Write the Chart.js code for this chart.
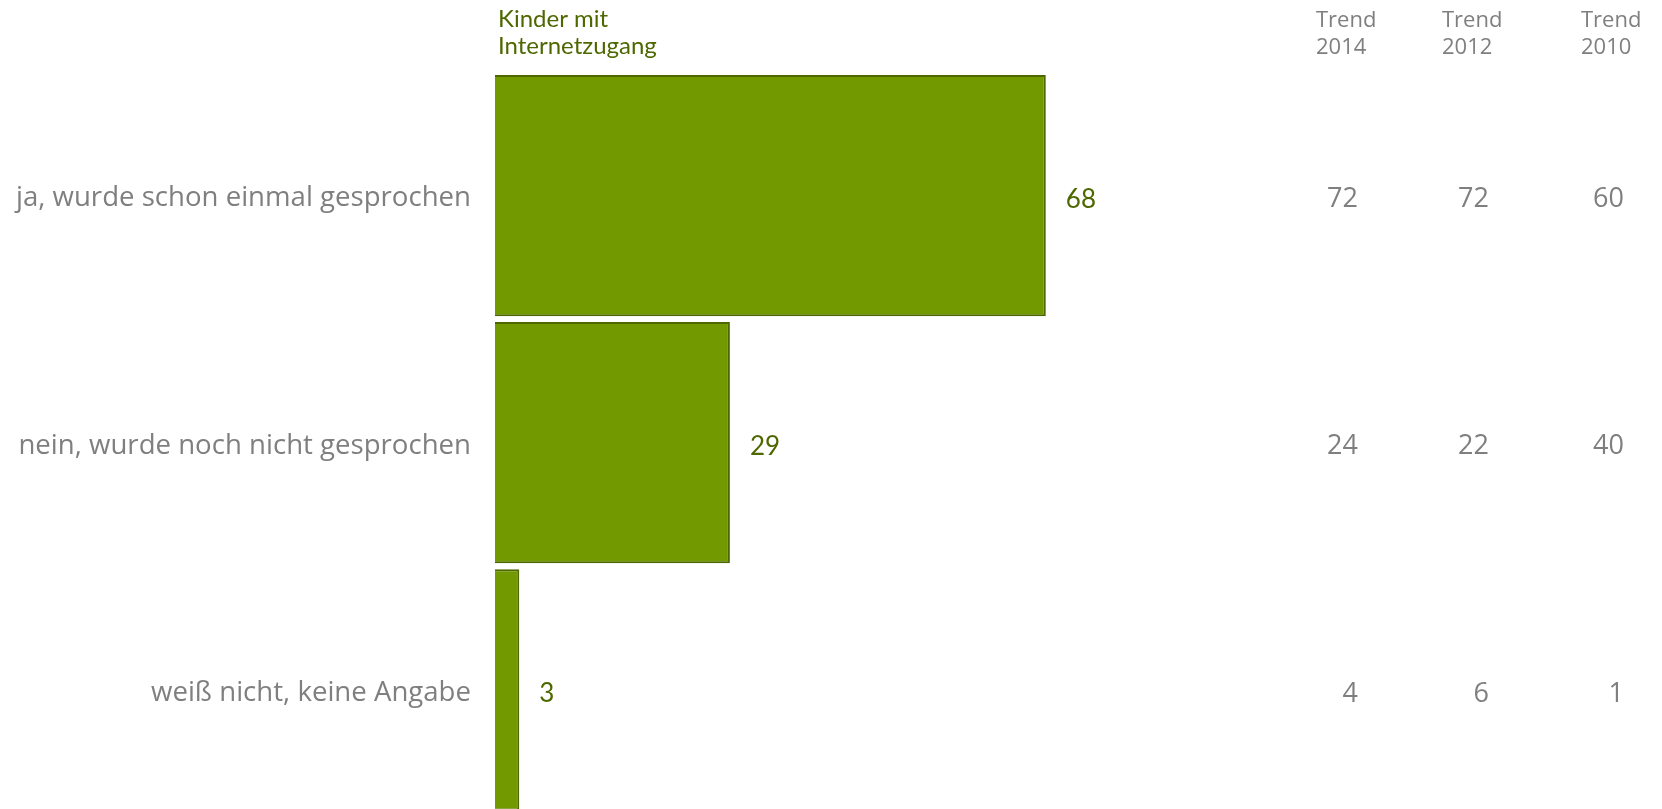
<!DOCTYPE html>
<html>
<head>
<meta charset="utf-8">
<script src="https://cdn.jsdelivr.net/npm/chart.js@4"></script>
<style>
  html, body { margin: 0; padding: 0; background: #fff; overflow: hidden; }
  canvas { display: block; }
</style>
</head>
<body>
<canvas id="chart" width="1662" height="854"></canvas>
<script>
// data
const categories = ['ja, wurde schon einmal gesprochen', 'nein, wurde noch nicht gesprochen', 'weiß nicht, keine Angabe'];
const kinderValues = [68, 29, 3];
const trend2014 = [72, 24, 4];
const trend2012 = [72, 22, 6];
const trend2010 = [60, 40, 1];
const seriesHeader = ['Kinder mit', 'Internetzugang'];
const trendHeaders = [['Trend', '2014'], ['Trend', '2012'], ['Trend', '2010']];

const green = '#739900';
const greenDark = '#4e6800';
const gray = '#7f7f7f';

// extra text: header row, value labels, trend columns
const textPlugin = {
    id: 'texts',
    afterDatasetsDraw(chart) {
        const ctx = chart.ctx;
        const x = chart.scales.x, y = chart.scales.y;
        ctx.save();

        // series header
        ctx.fillStyle = greenDark;
        ctx.font = '24px Lato';
        ctx.textAlign = 'left';
        ctx.textBaseline = 'alphabetic';
        seriesHeader.forEach((t, i) => ctx.fillText(t, 498, 27 + i * 27));

        // trend headers
        ctx.fillStyle = gray;
        ctx.font = '22px "Open Sans"';
        const headX = [1316, 1442, 1581];
        trendHeaders.forEach((lines, c) => {
            lines.forEach((t, i) => ctx.fillText(t, headX[c], 27 + i * 27));
        });

        // value labels next to bars
        ctx.textBaseline = 'middle';
        ctx.fillStyle = greenDark;
        ctx.font = '26px Lato';
        kinderValues.forEach((v, i) => {
            ctx.fillText(String(v), x.getPixelForValue(v) + 20, y.getPixelForValue(i) + 4);
        });

        // trend columns
        ctx.fillStyle = gray;
        ctx.font = '27px "Open Sans"';
        ctx.textAlign = 'right';
        const colX = [1358, 1489, 1624];
        [trend2014, trend2012, trend2010].forEach((arr, c) => {
            arr.forEach((v, i) => ctx.fillText(String(v), colX[c], y.getPixelForValue(i) + 4));
        });
        ctx.restore();
    }
};

new Chart(document.getElementById('chart'), {
    type: 'bar',
    data: {
        labels: categories,
        datasets: [{
            label: 'Kinder mit Internetzugang',
            data: kinderValues,
            backgroundColor: green,
            borderColor: greenDark,
            borderWidth: 2,
            barPercentage: 0.976,
            categoryPercentage: 1
        }]
    },
    options: {
        indexAxis: 'y',
        responsive: false,
        animation: false,
        layout: { padding: { top: 72, bottom: 7, right: 357, left: 0 } },
        plugins: { legend: { display: false }, tooltip: { enabled: false } },
        scales: {
            x: { display: false, min: 0, max: 100 },
            y: {
                grid: { display: false, drawTicks: false },
                border: { display: false },
                ticks: { color: gray, font: { family: 'Open Sans', size: 27.6 }, padding: 24, labelOffset: 3 },
                afterFit: s => { s.width = 495; }
            }
        }
    },
    plugins: [textPlugin]
});
</script>
</body>
</html>
